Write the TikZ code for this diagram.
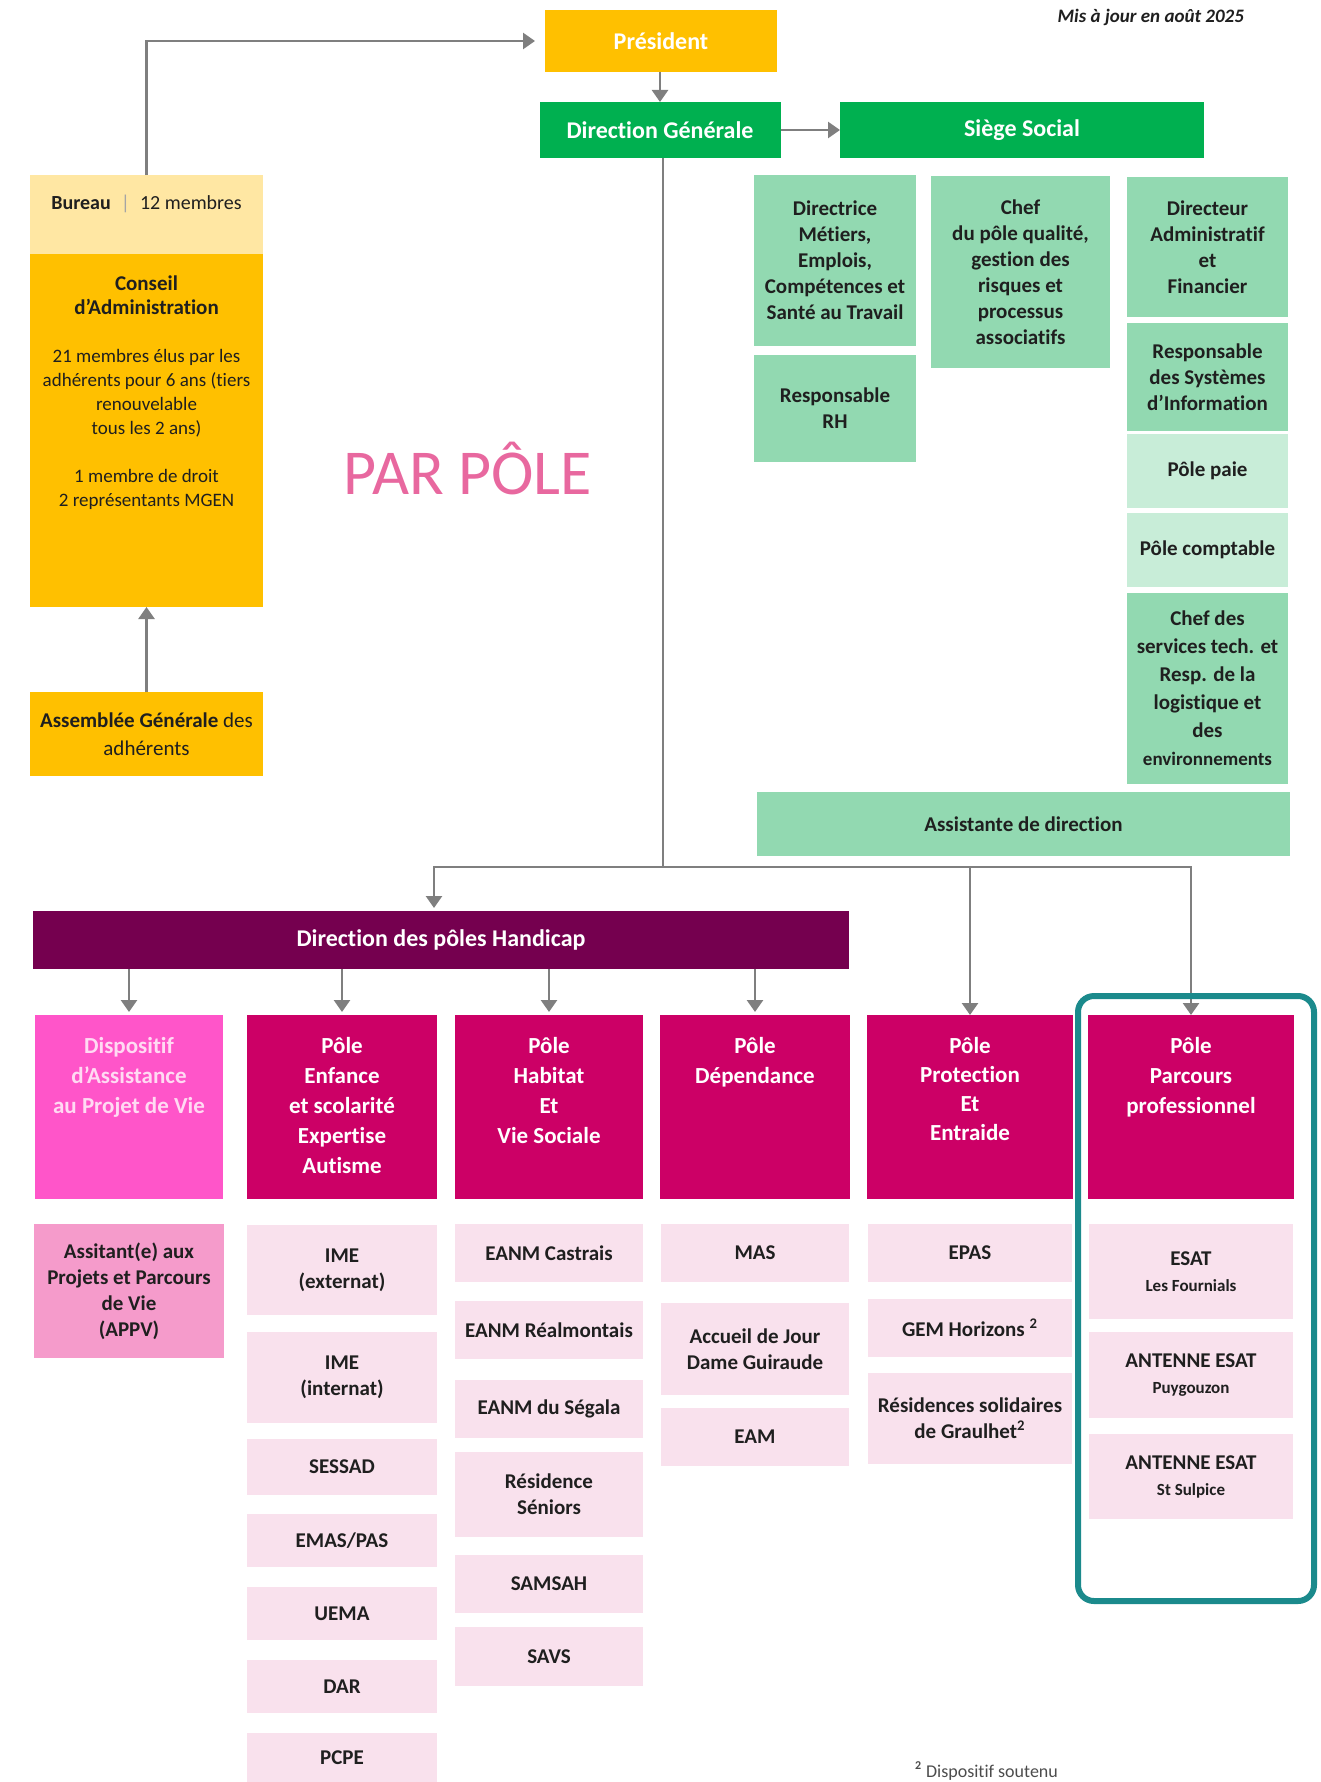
\documentclass[tikz,border=0pt]{standalone}
\usepackage{fontspec}
\setmainfont{Carlito}[Ligatures=NoCommon]
\usepackage{xcolor}
\usepackage{tikz}
\usetikzlibrary{positioning, arrows.meta, calc}

\definecolor{ambre}{HTML}{FFC000}
\definecolor{paille}{HTML}{FFE7A3}
\definecolor{vertdg}{HTML}{00B050}
\definecolor{menthe}{HTML}{92D9B1}
\definecolor{menthepale}{HTML}{C8EDD8}
\definecolor{prune}{HTML}{75004F}
\definecolor{framboise}{HTML}{CC0066}
\definecolor{fuchsia}{HTML}{FF55C9}
\definecolor{rosemoyen}{HTML}{F59BCB}
\definecolor{rosepale}{HTML}{F9E1ED}
\definecolor{gris}{HTML}{7F7F7F}
\definecolor{canard}{HTML}{1B8A8C}
\definecolor{rosetitre}{HTML}{E8689F}
\definecolor{encre}{HTML}{1F1F1F}

\begin{document}
\begin{tikzpicture}[ x = 0.5pt
                   , y = -0.5pt
                   , >={Triangle[width=8pt, length=6pt]}
                   , every node/.style = { rectangle
                                         , align = center
                                         , inner sep = 1pt
                                         , outer sep = 0pt }
                   , wh/.style 2 args = { minimum width = #1*0.5pt
                                        , minimum height = #2*0.5pt }
                   , titre/.style = { text = white
                                    , font = \bfseries\fontsize{12}{15}\selectfont }
                   , cadre/.style = { fill = menthe
                                    , text = encre
                                    , font = \bfseries\fontsize{10.5}{13}\selectfont }
                   , poletexte/.style = { anchor = north
                                        , yshift = -10pt
                                        , text = white
                                        , font = \bfseries\fontsize{11.5}{15}\selectfont }
                   , etab/.style = { fill = rosepale
                                   , text = encre
                                   , font = \bfseries\fontsize{10.5}{13}\selectfont }
                   , fil/.style = { draw = gris, line width = 1.3pt }
                   ]

  \useasboundingbox (0,0) rectangle (1321,1782);

  \node (majour) [anchor = east, text = encre, font = \bfseries\itshape\fontsize{9.5}{11}\selectfont]
    at (1246,17) {Mis à jour en août 2025};

  \node (president) [titre, fill = ambre, wh = {232}{62}] at (661,41) {Président};
  \node (dg) [titre, fill = vertdg, wh = {241}{56}] at (660,130) {Direction Générale};
  \node (siege) [titre, fill = vertdg, wh = {364}{56}] at (1022,130) {Siège Social};

  \node (bureau) [fill = paille, wh = {233}{79}] at (146.5,214.5) {};
  \node (bureautexte) [below = 9pt of bureau.north, text = encre, font = \fontsize{10}{12}\selectfont]
    {\textbf{Bureau}\enspace\textcolor{gris!70}{|}\enspace 12 membres};
  \node (conseil) [fill = ambre, wh = {233}{353}] at (146.5,430.5) {};
  \node (conseiltexte) [below = 10pt of conseil.north, text = encre, font = \fontsize{9.5}{12}\selectfont]
    {{\bfseries\fontsize{10.5}{12.5}\selectfont Conseil}\\
     {\bfseries\fontsize{10.5}{12.5}\selectfont d’Administration}\\[12pt]
     21 membres élus par les\\
     adhérents pour 6 ans (tiers\\
     renouvelable\\
     tous les 2 ans)\\[12pt]
     1 membre de droit\\
     2 représentants MGEN};
  \node (ag) [fill = ambre, wh = {233}{84}, text = encre, font = \fontsize{10.5}{14}\selectfont]
    at (146.5,734) {\textbf{Assemblée Générale} des\\adhérents};

  \node (parpole) [text = rosetitre, font = \fontsize{32}{36}\selectfont] at (468,469) {PAR PÔLE};

  \node (metiers) [cadre, wh = {162}{171}] at (835,260.5)
    {Directrice\\Métiers,\\Emplois,\\Compétences et\\Santé au Travail};
  \node (rh) [cadre, wh = {162}{107}, below = 4.5pt of metiers] {Responsable\\RH};
  \node (qualite) [cadre, wh = {179}{192}] at (1020.5,272)
    {Chef\\du pôle qualité,\\gestion des\\risques et\\processus\\associatifs};
  \node (daf) [cadre, wh = {161}{140}] at (1207.5,247) {Directeur\\Administratif\\et\\Financier};
  \node (si) [cadre, wh = {161}{108}, below = 3pt of daf] {Responsable\\des Systèmes\\d’Information};
  \node (paie) [cadre, fill = menthepale, wh = {161}{74}, below = 1.5pt of si] {Pôle paie};
  \node (compta) [cadre, fill = menthepale, wh = {161}{74}, below = 2.5pt of paie] {Pôle comptable};
  \node (technique) [cadre, wh = {161}{191}, below = 3pt of compta, font = \bfseries\fontsize{10.5}{14}\selectfont]
    {Chef des\\services tech. et\\Resp. de la\\logistique et\\des\\{\fontsize{9.5}{12}\selectfont environnements}};
  \node (assistante) [cadre, wh = {533}{64}] at (1023.5,824) {Assistante de direction};

  \node (handicap) [titre, fill = prune, wh = {816}{58}] at (441,940) {Direction des pôles Handicap};

  \node (dapv) [fill = fuchsia, wh = {188}{184}] at (129,1107) {};
  \node (enfance) [fill = framboise, wh = {190}{184}] at (342,1107) {};
  \node (habitat) [fill = framboise, wh = {188}{184}] at (549,1107) {};
  \node (dependance) [fill = framboise, wh = {190}{184}] at (755,1107) {};
  \node (protection) [fill = framboise, wh = {206}{184}] at (970,1107) {};
  \node (parcours) [fill = framboise, wh = {206}{184}] at (1191,1107) {};

  \node (dapvtexte) [poletexte, text = white!78!fuchsia] at (dapv.north) {Dispositif\\d’Assistance\\au Projet de Vie};
  \node (enfancetexte) [poletexte] at (enfance.north) {Pôle\\Enfance\\et scolarité\\Expertise\\Autisme};
  \node (habitattexte) [poletexte] at (habitat.north) {Pôle\\Habitat\\Et\\Vie Sociale};
  \node (dependancetexte) [poletexte] at (dependance.north) {Pôle\\Dépendance};
  \node (protectiontexte) [poletexte, font = \bfseries\fontsize{11.5}{14.5}\selectfont]
    at (protection.north) {Pôle\\Protection\\Et\\Entraide};
  \node (parcourstexte) [poletexte] at (parcours.north) {Pôle\\Parcours\\professionnel};

  \node (appv) [etab, fill = rosemoyen, wh = {190}{134}, below = 12.5pt of dapv]
    {Assitant(e) aux\\Projets et Parcours\\de Vie\\(APPV)};

  \node (imeext) [etab, wh = {190}{90}, below = 13pt of enfance] {IME\\(externat)};
  \node (imeint) [etab, wh = {190}{91}, below = 8.5pt of imeext] {IME\\(internat)};
  \node (sessad) [etab, wh = {190}{56}, below = 8pt of imeint] {SESSAD};
  \node (emas) [etab, wh = {190}{53}, below = 9.5pt of sessad] {EMAS/PAS};
  \node (uema) [etab, wh = {190}{53}, below = 10pt of emas] {UEMA};
  \node (dar) [etab, wh = {190}{53}, below = 10pt of uema] {DAR};
  \node (pcpe) [etab, wh = {190}{49}, below = 10pt of dar] {PCPE};

  \node (castrais) [etab, wh = {188}{58}, below = 12.5pt of habitat] {EANM Castrais};
  \node (realmont) [etab, wh = {188}{58}, below = 9.5pt of castrais] {EANM Réalmontais};
  \node (segala) [etab, wh = {188}{58}, below = 10.5pt of realmont] {EANM du Ségala};
  \node (seniors) [etab, wh = {188}{85}, below = 7pt of segala] {Résidence\\Séniors};
  \node (samsah) [etab, wh = {188}{58}, below = 9pt of seniors] {SAMSAH};
  \node (savs) [etab, wh = {188}{59}, below = 7pt of samsah] {SAVS};

  \node (mas) [etab, wh = {188}{58}, below = 12.5pt of dependance] {MAS};
  \node (accueil) [etab, wh = {188}{92}, below = 10.5pt of mas] {Accueil de Jour\\Dame Guiraude};
  \node (eam) [etab, wh = {188}{58}, below = 6.5pt of accueil] {EAM};

  \node (epas) [etab, wh = {204}{58}, below = 12.5pt of protection] {EPAS};
  \node (gem) [etab, wh = {204}{58}, below = 8.5pt of epas] {GEM Horizons \textsuperscript{2}};
  \node (graulhet) [etab, wh = {204}{91}, below = 8pt of gem] {Résidences solidaires\\de Graulhet\textsuperscript{2}};

  \node (fournials) [etab, wh = {204}{95}, below = 12.5pt of parcours]
    {ESAT\\{\fontsize{8.5}{10}\selectfont Les Fournials}};
  \node (puygouzon) [etab, wh = {204}{86}, below = 6.5pt of fournials]
    {ANTENNE ESAT\\{\fontsize{8.5}{10}\selectfont Puygouzon}};
  \node (sulpice) [etab, wh = {204}{85}, below = 8pt of puygouzon]
    {ANTENNE ESAT\\{\fontsize{8.5}{10}\selectfont St Sulpice}};

  \node (note) [anchor = south west, text = encre!80, font = \fontsize{9}{10}\selectfont]
    at (913,1782) {\textsuperscript{\textbf{2}} Dispositif soutenu};

  \draw[fil, ->, shorten >= 5pt] (bureau.north) |- (president.west);
  \draw[fil, ->] (ag.north) -- (conseil.south);
  \draw[fil, ->] (dg.north |- president.south) -- (dg.north);
  \draw[fil, ->] (dg.east) -- (siege.west);

  \coordinate (carrefour) at (663,867);
  \draw[fil] (dg.south -| carrefour) -- (carrefour);
  \draw[fil, ->, shorten >= 1.5pt] (carrefour) -| ([xshift = -3.5pt]handicap.north);
  \draw[fil, ->] (carrefour) -| (protection.north);
  \draw[fil, ->] (carrefour) -| (parcours.north);

  \draw[fil, ->, shorten >= 1.5pt] (handicap.south -| dapv.north) -- (dapv.north);
  \draw[fil, ->, shorten >= 1.5pt] (handicap.south -| enfance.north) -- (enfance.north);
  \draw[fil, ->, shorten >= 1.5pt] (handicap.south -| habitat.north) -- (habitat.north);
  \draw[fil, ->, shorten >= 1.5pt] (handicap.south -| dependance.north) -- (dependance.north);

  \draw[draw = canard, line width = 3pt, rounded corners = 8pt] (1078,996) rectangle (1314,1601);

\end{tikzpicture}
\end{document}
